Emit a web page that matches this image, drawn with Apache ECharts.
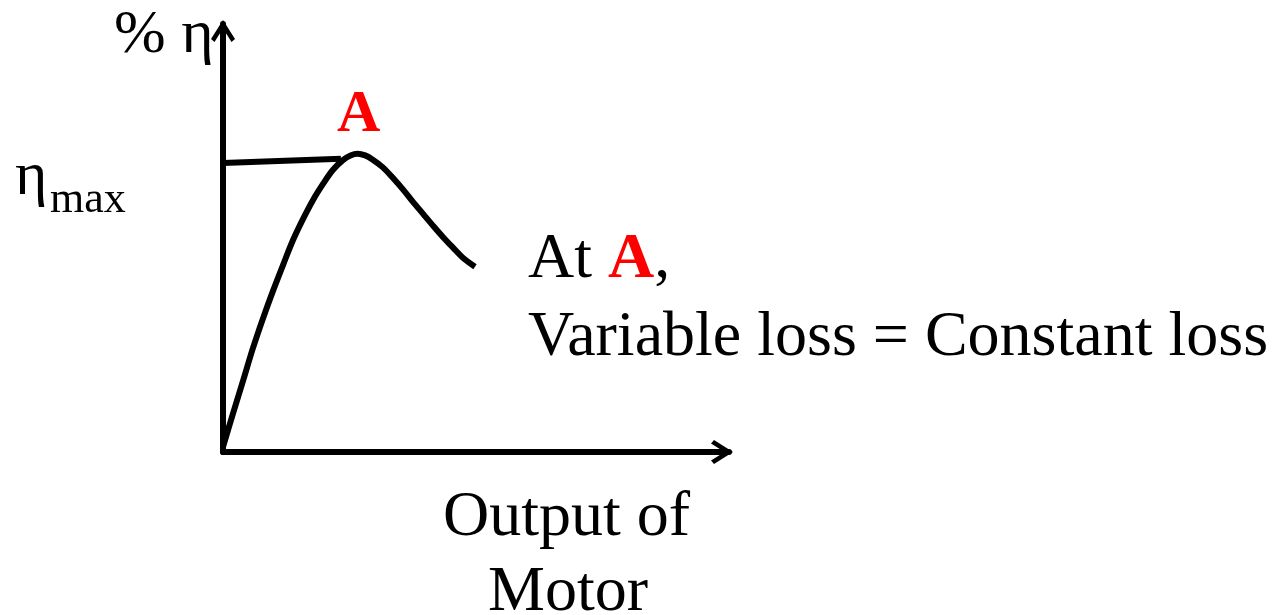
<!DOCTYPE html>
<html>
<head>
<meta charset="utf-8">
<script src="https://cdn.jsdelivr.net/npm/echarts@6/dist/echarts.min.js"></script>
<style>
  html, body { margin: 0; padding: 0; background: #fff; }
  #chart { width: 1273px; height: 615px; }
</style>
</head>
<body>
<div id="chart"></div>
<script>
(function(){

    // efficiency curve (x = output, y = efficiency)
    var curveX = [0, 0.20, 0.40, 0.59, 0.79, 0.99, 1.19, 1.38, 1.58, 1.78, 1.98, 2.17, 2.37,
                  2.52, 2.66, 2.81, 2.96, 3.16, 3.36, 3.56, 3.75, 3.95, 4.15, 4.35, 4.55, 4.74, 4.98];
    var curveY = [0.12, 0.91, 1.68, 2.42, 3.12, 3.77, 4.38, 4.94, 5.44, 5.89, 6.27, 6.59, 6.82,
                  6.93, 6.97, 6.93, 6.83, 6.65, 6.40, 6.13, 5.85, 5.57, 5.29, 5.02, 4.77, 4.54, 4.33];
    // line from the y axis to the peak (eta max)
    var maxLineX = [0, 2.33];
    var maxLineY = [6.75, 6.85];

    var curveData = curveX.map(function(x, i){ return [x, curveY[i]]; });
    var maxLineData = maxLineX.map(function(x, i){ return [x, maxLineY[i]]; });

    var serif = 'Liberation Serif';
    // open chevron arrow head, pointing up
    var chevron = 'path://M12,0 L24,19 L20.5,22 L12,8.5 L3.5,22 L0,19 Z';

    var chart = echarts.init(document.getElementById('chart'));
    var option = {
        backgroundColor: '#fff',
        animation: false,
        grid: {
            left: 223,
            top: 24,
            width: 506,
            height: 428
        },
        xAxis: {
            type: 'value',
            min: 0,
            max: 10,
            axisLine: {
                show: true,
                symbol: ['none', chevron],
                symbolSize: [24, 22],
                symbolOffset: [0, -7],
                lineStyle: { color: '#000', width: 6 }
            },
            axisTick: { show: false },
            axisLabel: { show: false },
            splitLine: { show: false }
        },
        yAxis: {
            type: 'value',
            min: 0,
            max: 10,
            axisLine: {
                show: true,
                symbol: ['none', chevron],
                symbolSize: [24, 22],
                symbolOffset: [0, -7],
                lineStyle: { color: '#000', width: 6 }
            },
            axisTick: { show: false },
            axisLabel: { show: false },
            splitLine: { show: false }
        },
        series: [
            {
                name: 'efficiency',
                type: 'line',
                smooth: 0.33,
                symbol: 'none',
                data: curveData,
                lineStyle: { color: '#000', width: 6, cap: 'butt', join: 'round' }
            },
            {
                name: 'eta max',
                type: 'line',
                symbol: 'none',
                data: maxLineData,
                lineStyle: { color: '#000', width: 6 }
            }
        ],
        graphic: [
            {
                type: 'text', left: 114, top: 5,
                style: { text: '% η', font: '62px ' + serif, fill: '#000' }
            },
            {
                type: 'text', left: 15, top: 147,
                style: { text: 'η', font: '62px ' + serif, fill: '#000' }
            },
            {
                type: 'text', left: 50, top: 178,
                style: { text: 'max', font: '44px ' + serif, fill: '#000' }
            },
            {
                type: 'text', left: 337, top: 85,
                style: { text: 'A', font: 'bold 60px ' + serif, fill: '#ff0000' }
            },
            {
                type: 'text', left: 528, top: 228,
                style: {
                    text: 'At {a|A},',
                    font: '64px ' + serif,
                    fill: '#000',
                    rich: {
                        a: { font: 'bold 64px ' + serif, fill: '#ff0000' }
                    }
                }
            },
            {
                type: 'text', left: 528, top: 306,
                style: { text: 'Variable loss = Constant loss', font: '64px ' + serif, fill: '#000' }
            },
            {
                type: 'text', left: 443, top: 486,
                style: { text: 'Output of', font: '64px ' + serif, fill: '#000' }
            },
            {
                type: 'text', left: 488, top: 561,
                style: { text: 'Motor', font: '64px ' + serif, fill: '#000' }
            }
        ]
    };
    chart.setOption(option);

})();
</script>
</body>
</html>
